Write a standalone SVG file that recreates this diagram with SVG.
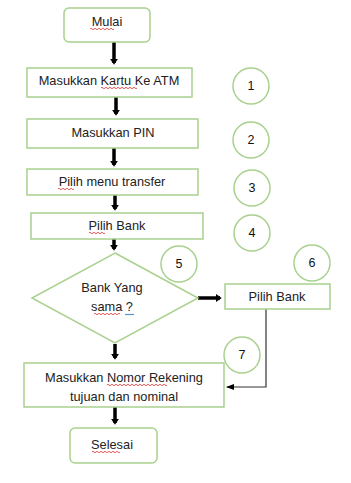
<svg xmlns="http://www.w3.org/2000/svg" width="351" height="483" viewBox="0 0 351 483">
<defs>
<marker id="ah" markerWidth="4" markerHeight="4" refX="1.2" refY="2" orient="auto" markerUnits="strokeWidth">
<path d="M0,0.85 L1.7,2 L0,3.15 Z" fill="#000"/>
</marker>
<marker id="ahs" markerWidth="8" markerHeight="8" refX="7" refY="4" orient="auto" markerUnits="userSpaceOnUse">
<path d="M0,1 L8,4 L0,7 Z" fill="#000"/>
</marker>
</defs>
<style>
.box{fill:#fff;stroke:#a9d18e;stroke-width:1.5}
.t{font-family:"Liberation Sans",Arial,sans-serif;font-size:12.8px;fill:#222;text-anchor:middle}
.n{font-family:"Liberation Sans",Arial,sans-serif;font-size:12.5px;fill:#111;text-anchor:middle}
.a{stroke:#000;stroke-width:3.5;fill:none;marker-end:url(#ah)}
.thin{stroke:#333;stroke-width:1.2;fill:none;marker-end:url(#ahs)}
.sq{stroke:#e03030;stroke-width:0.8;fill:none}
</style>
<rect width="351" height="483" fill="#fff"/>
<g id="connectors">
<line class="a" x1="114" y1="42" x2="114" y2="63"/>
<line class="a" x1="116" y1="97" x2="116" y2="114"/>
<line class="a" x1="114" y1="148" x2="114" y2="165"/>
<line class="a" x1="115" y1="195" x2="115" y2="209"/>
<line class="a" x1="114" y1="239" x2="114" y2="249"/>
<line class="a" x1="198" y1="298" x2="220" y2="298"/>
<polyline class="thin" points="266,309 266,387 227,387"/>
<line class="a" x1="115" y1="344" x2="115" y2="358"/>
<line class="a" x1="115" y1="407" x2="115" y2="423"/>
</g>
<g id="mulai">
<rect class="box" x="64" y="8" width="86" height="34" rx="5"/>
<text class="t" x="107" y="26">Mulai</text>
<path class="sq" d="M90,29 q1,-1.5 2,0 t2,0 t2,0 t2,0 t2,0 t2,0 t2,0 t2,0 t2,0 t2,0 t2,0 t2,0"/>
</g>
<g id="kartu">
<rect class="box" x="27" y="68" width="165" height="29"/>
<text class="t" x="109" y="85">Masukkan Kartu Ke ATM</text>
<path class="sq" d="M101,88 q1,-1.5 2,0 t2,0 t2,0 t2,0 t2,0 t2,0 t2,0 t2,0 t2,0 t2,0 t2,0 t2,0 t2,0 t2,0 t2,0 t2,0 t2,0 t2,0"/>
</g>
<g id="pin">
<rect class="box" x="27" y="119" width="171" height="29"/>
<text class="t" x="113" y="137">Masukkan PIN</text>
</g>
<g id="menu">
<rect class="box" x="27" y="169" width="171" height="26"/>
<text class="t" x="112" y="186">Pilih menu transfer</text>
<path class="sq" d="M58,189 q1,-1.5 2,0 t2,0 t2,0 t2,0 t2,0 t2,0 t2,0 t2,0"/>
</g>
<g id="bank">
<rect class="box" x="31" y="213" width="172" height="26"/>
<text class="t" x="117" y="230">Pilih Bank</text>
<path class="sq" d="M89,233 q1,-1.5 2,0 t2,0 t2,0 t2,0 t2,0 t2,0 t2,0 t2,0"/>
</g>
<g id="decision">
<polygon class="box" points="115,253 198,298 115,343 32,298"/>
<text class="t" x="112" y="292">Bank Yang</text>
<text class="t" x="112" y="311">sama ?</text>
<path class="sq" d="M94,314 q1,-1.5 2,0 t2,0 t2,0 t2,0 t2,0 t2,0 t2,0 t2,0 t2,0 t2,0 t2,0 t2,0 t2,0"/>
<line x1="125" y1="314.5" x2="134" y2="314.5" stroke="#5b8fd6" stroke-width="1.2"/>
</g>
<g id="bank2">
<rect class="box" x="225" y="284" width="105" height="25"/>
<text class="t" x="277" y="301">Pilih Bank</text>
</g>
<g id="rekening">
<rect class="box" x="24" y="363" width="200" height="44"/>
<text class="t" x="124" y="382">Masukkan Nomor Rekening</text>
<text class="t" x="124" y="401">tujuan dan nominal</text>
<path class="sq" d="M107,385 q1,-1.5 2,0 t2,0 t2,0 t2,0 t2,0 t2,0 t2,0 t2,0 t2,0 t2,0 t2,0 t2,0 t2,0 t2,0 t2,0 t2,0 t2,0 t2,0 t2,0 t2,0 t2,0 t2,0 t2,0 t2,0 t2,0 t2,0 t2,0 t2,0 t2,0 t2,0"/>
</g>
<g id="selesai">
<rect class="box" x="70" y="428" width="87" height="35" rx="5"/>
<text class="t" x="112" y="449">Selesai</text>
<path class="sq" d="M92,452 q1,-1.5 2,0 t2,0 t2,0 t2,0 t2,0 t2,0 t2,0 t2,0 t2,0 t2,0 t2,0 t2,0 t2,0 t2,0"/>
</g>
<g id="c1"><circle class="box" cx="251" cy="86" r="18"/><text class="n" x="251" y="90">1</text></g>
<g id="c2"><circle class="box" cx="251" cy="140" r="18"/><text class="n" x="251" y="144">2</text></g>
<g id="c3"><circle class="box" cx="252" cy="188" r="18"/><text class="n" x="252" y="192">3</text></g>
<g id="c4"><circle class="box" cx="252" cy="233" r="18"/><text class="n" x="252" y="237">4</text></g>
<g id="c5"><circle class="box" cx="179" cy="264" r="18"/><text class="n" x="179" y="268">5</text></g>
<g id="c6"><circle class="box" cx="312" cy="263" r="18"/><text class="n" x="312" y="267">6</text></g>
<g id="c7"><circle class="box" cx="242" cy="355" r="18"/><text class="n" x="242" y="359">7</text></g>
</svg>
